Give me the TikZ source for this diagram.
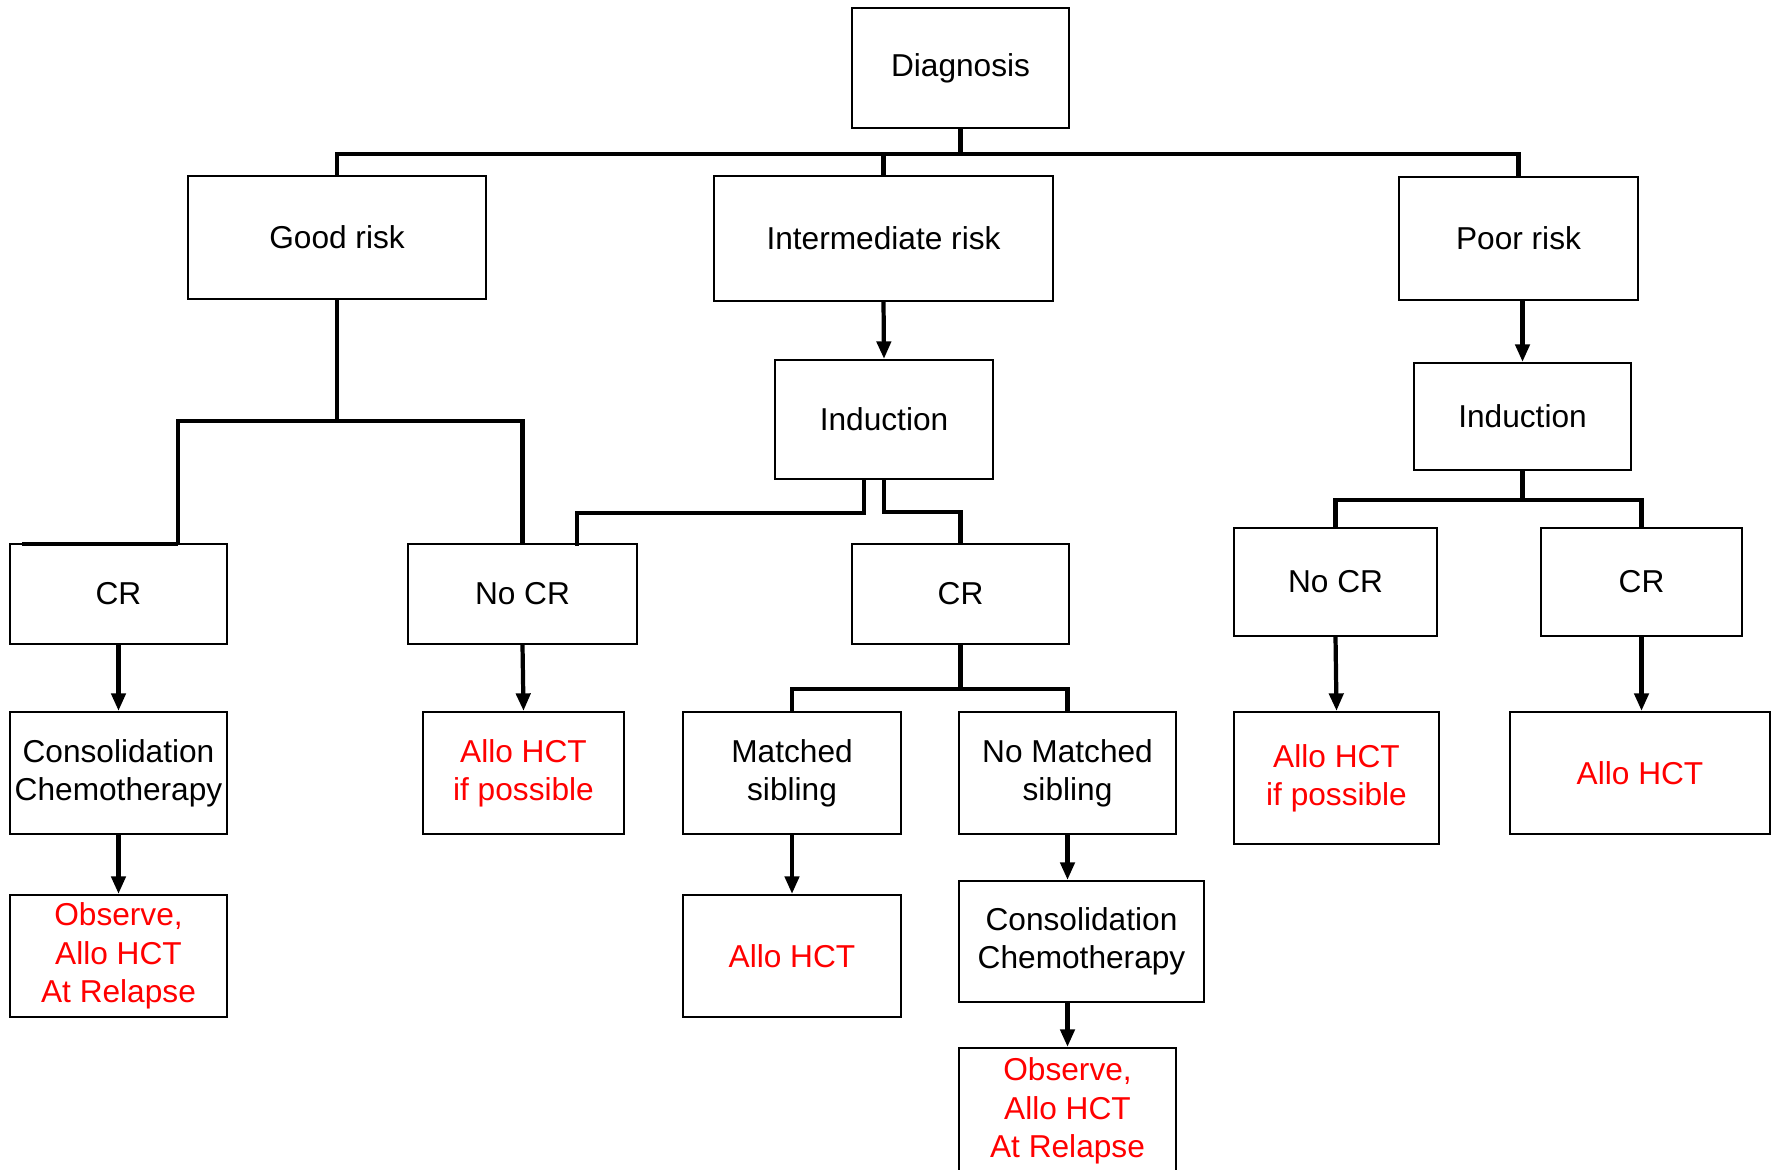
\documentclass[tikz,border=0pt]{standalone}
\usepackage{fontspec}
\setmainfont{Liberation Sans}
\usetikzlibrary{arrows.meta}
\tikzset{
  box/.style={draw, rectangle, line width=0.6pt, align=center, inner sep=0pt,
    font=\fontsize{9}{10.9}\selectfont},
  redbox/.style={box, text=red},
  bar/.style={line width=1.2pt},
  arr/.style={line width=1.2pt, -{Triangle[length=5pt,width=4pt]}},
}
\begin{document}
\begin{tikzpicture}[x=0.01cm, y=-0.01cm]
    \useasboundingbox (0,0) rectangle (1777,1169);

    % top
    \node[box, minimum width=2.17cm, minimum height=1.20cm] (diag) at (960.5,68) {Diagnosis};

    % risk groups
    \node[box, minimum width=2.98cm, minimum height=1.23cm] (good) at (337,237.5) {Good risk};
    \node[box, minimum width=3.39cm, minimum height=1.25cm] (inter) at (883.5,238.5) {Intermediate risk};
    \node[box, minimum width=2.39cm, minimum height=1.23cm] (poor) at (1518.5,238.5) {Poor risk};

    % induction
    \node[box, minimum width=2.18cm, minimum height=1.19cm] (indM) at (884,419.5) {Induction};
    \node[box, minimum width=2.17cm, minimum height=1.07cm] (indR) at (1522.5,416.5) {Induction};

    % response
    \node[box, minimum width=2.17cm, minimum height=1.00cm] (crL) at (118.5,594) {CR};
    \node[box, minimum width=2.29cm, minimum height=1.00cm] (nocrL) at (522.5,594) {No CR};
    \node[box, minimum width=2.17cm, minimum height=1.00cm] (crM) at (960.5,594) {CR};
    \node[box, minimum width=2.03cm, minimum height=1.08cm] (nocrR) at (1335.5,582) {No CR};
    \node[box, minimum width=2.01cm, minimum height=1.08cm] (crR) at (1641.5,582) {CR};

    % next step
    \node[box, minimum width=2.17cm, minimum height=1.22cm] (consL) at (118.5,773) {Consolidation\\Chemotherapy};
    \node[redbox, minimum width=2.01cm, minimum height=1.22cm] (alloL) at (523.5,773) {Allo HCT\\if possible};
    \node[box, minimum width=2.18cm, minimum height=1.22cm] (match) at (792,773) {Matched\\sibling};
    \node[box, minimum width=2.17cm, minimum height=1.22cm] (nomatch) at (1067.5,773) {No Matched\\sibling};
    \node[redbox, minimum width=2.05cm, minimum height=1.32cm] (alloifR) at (1336.5,778) {Allo HCT\\if possible};
    \node[redbox, minimum width=2.60cm, minimum height=1.22cm] (alloR) at (1640,773) {Allo HCT};

    % last step
    \node[redbox, minimum width=2.17cm, minimum height=1.22cm] (obsL) at (118.5,956) {Observe,\\Allo HCT\\At Relapse};
    \node[redbox, minimum width=2.18cm, minimum height=1.22cm] (alloM) at (792,956) {Allo HCT};
    \node[box, minimum width=2.45cm, minimum height=1.21cm] (consM) at (1081.5,941.5) {Consolidation\\Chemotherapy};
    \node[redbox, minimum width=2.17cm, minimum height=1.40cm] (obsM) at (1067.5,1118) {};
    \node[text=red, align=center, font=\fontsize{9}{10.9}\selectfont] (obsMtext) at (1067.5,1111) {Observe,\\Allo HCT\\At Relapse};

    % free ends
    \coordinate (crLtop) at (178,544);
    \coordinate (crLstub) at (22,544);
    \coordinate (indMl) at (864,479);
    \coordinate (nocrLr) at (577,546);

    % branches
    \draw[bar] (diag.south) -- ++(0,25) -| (good.north);
    \draw[bar] (diag.south) -- ++(0,25) -| (inter.north);
    \draw[bar] (diag.south) -- ++(0,25) -| (poor.north);
    \draw[bar] (good.south) -- ++(0,121) -| (crLtop);
    \draw[bar] (crLtop) -- (crLstub);
    \draw[bar] (good.south) -- ++(0,121) -| (nocrL.north);
    \draw[bar] (indMl) -- ++(0,34) -| (nocrLr);
    \draw[bar] (indM.south) -- ++(0,32) -| (crM.north);
    \draw[bar] (indR.south) -- ++(0,29) -| (nocrR.north);
    \draw[bar] (indR.south) -- ++(0,29) -| (crR.north);
    \draw[bar] (crM.south) -- ++(0,44) -| (match.north);
    \draw[bar] (crM.south) -- ++(0,44) -| (nomatch.north);

    % arrows
    \draw[arr] (inter.south) -- (indM.north);
    \draw[arr] (indR.north |- poor.south) -- (indR.north);
    \draw[arr] (crL.south) -- (consL.north);
    \draw[arr] (consL.south) -- (obsL.north);
    \draw[arr] (nocrL.south) -- (alloL.north);
    \draw[arr] (match.south) -- (alloM.north);
    \draw[arr] (nomatch.south) -- (nomatch.south |- consM.north);
    \draw[arr] (nomatch.south |- consM.south) -- (obsM.north);
    \draw[arr] (nocrR.south) -- (alloifR.north);
    \draw[arr] (crR.south) -- (crR.south |- alloR.north);
\end{tikzpicture}
\end{document}
